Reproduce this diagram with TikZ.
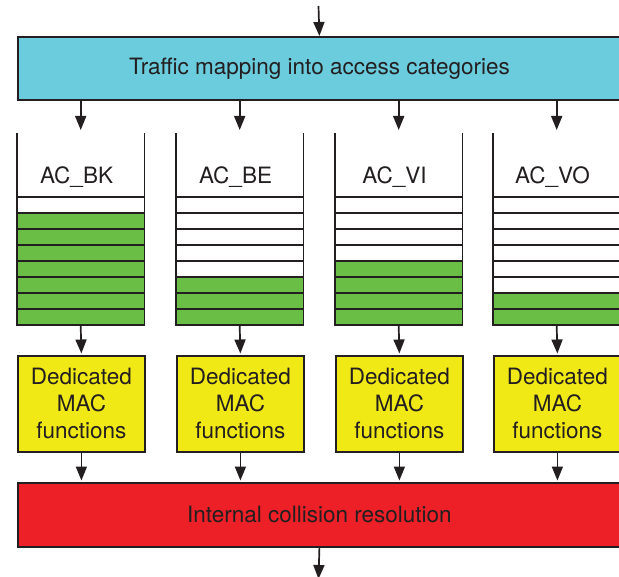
\documentclass[tikz,border=0pt]{standalone}
\usepackage{fontspec}
\setmainfont{TeX Gyre Heros}
\usetikzlibrary{arrows.meta}
\definecolor{mapcyan}{RGB}{106,204,221}
\definecolor{qgreen}{RGB}{106,189,69}
\definecolor{macyellow}{RGB}{241,233,22}
\definecolor{colred}{RGB}{237,32,39}
\definecolor{ink}{RGB}{35,31,32}
\tikzset{
  wide/.style={draw=ink, line width=1.8pt, rectangle, minimum width=603pt, minimum height=63pt, anchor=north west, inner sep=0pt, text=ink, font=\fontsize{22.5}{27}\selectfont},
  macbox/.style={draw=ink, line width=1.8pt, fill=macyellow, rectangle, minimum width=127pt, minimum height=96pt, anchor=north west, inner sep=0pt, align=center, text=ink, font=\fontsize{22.5}{27}\selectfont},
  queue/.style={rectangle, minimum width=127pt, minimum height=192pt, anchor=north west, inner sep=0pt},
  qlabel/.style={anchor=base, inner sep=0pt, text=ink, font=\fontsize{22.5}{27}\selectfont},
  qline/.style={draw=ink, line width=1.8pt},
  arr/.style={draw=ink, line width=1.7pt, -{Triangle[length=14pt,width=11pt]}}
}
\begin{document}
\begin{tikzpicture}[x=1pt,y=-1pt]
\useasboundingbox (0,0) rectangle (619,577);
\clip (0,0) rectangle (619,577);
\fill[white] (0,0) rectangle (619,577);

\node[wide, fill=mapcyan] (map) at (17,36) {Traffic mapping into access categories};
\node[wide, fill=colred, minimum height=64pt] (icr) at (17,482) {Internal collision resolution};

\coordinate (in) at (318.5,6);
\coordinate (out) at (318.5,579);
\draw[arr] (in) -- (map.north);
\draw[arr] (icr.south) -- (out);

\foreach \x/\name/\lab/\nw in {17/q1/AC\_BK/1, 176/q2/AC\_BE/5, 335/q3/AC\_VI/4, 493/q4/AC\_VO/6}{
  \node[queue] (\name) at (\x,133) {};
  \foreach \j in {0,...,7}{
    \pgfmathtruncatemacro{\isgreen}{\j>=\nw ? 1 : 0}
    \ifnum\isgreen=1
      \fill[qgreen] (\x,197+16*\j) rectangle (\x+127,213+16*\j);
    \fi
  }
  \foreach \j in {0,...,7}{
    \draw[qline] (\x,197+16*\j) -- (\x+127,197+16*\j);
  }
  \draw[qline] (\name.north west) -- (\name.south west) -- (\name.south east) -- (\name.north east);
  \node[qlabel] (\name l) at (\x+59.5,184) {\lab};
  \node[macbox] (\name f) at (\x,355) {Dedicated\\MAC\\functions};
  \draw[arr, shorten >=3pt] (map.south -| \name.north) -- (\name.north);
  \draw[arr, shorten >=1.5pt] (\name.south) -- (\name f.north);
  \draw[arr, shorten >=1.5pt] (\name f.south) -- (\name f.south |- icr.north);
}
\end{tikzpicture}
\end{document}
